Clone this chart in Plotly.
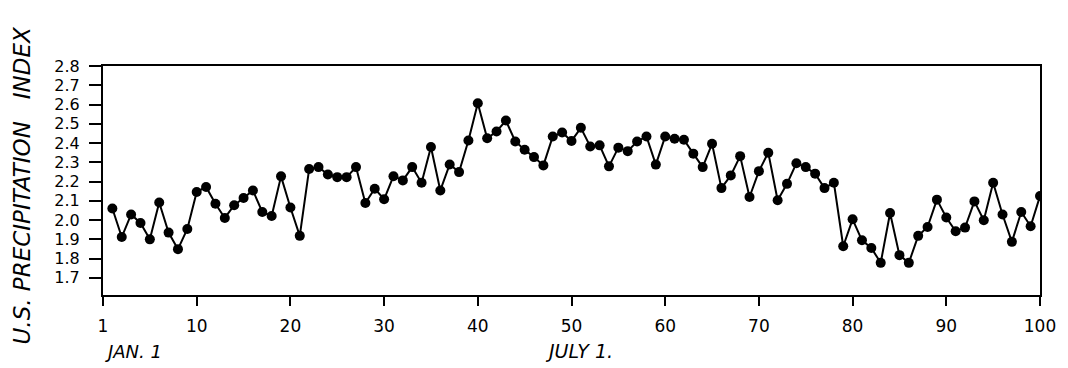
import plotly.graph_objects as go

periods = list(range(1, 101))
precip_index = [
    2.060, 1.912, 2.029, 1.985, 1.900, 2.091, 1.935, 1.849, 1.954, 2.146,
    2.172, 2.085, 2.011, 2.077, 2.115, 2.154, 2.042, 2.021, 2.227, 2.065,
    1.918, 2.265, 2.275, 2.237, 2.223, 2.223, 2.275, 2.089, 2.163, 2.108,
    2.228, 2.206, 2.275, 2.194, 2.379, 2.154, 2.289, 2.249, 2.413, 2.607,
    2.425, 2.460, 2.517, 2.408, 2.365, 2.327, 2.284, 2.434, 2.455, 2.411,
    2.479, 2.382, 2.388, 2.279, 2.376, 2.358, 2.408, 2.434, 2.288, 2.434,
    2.422, 2.417, 2.345, 2.275, 2.396, 2.166, 2.232, 2.332, 2.120, 2.254,
    2.350, 2.103, 2.188, 2.295, 2.275, 2.241, 2.166, 2.194, 1.864, 2.004,
    1.895, 1.855, 1.778, 2.037, 1.818, 1.778, 1.918, 1.964, 2.106, 2.013,
    1.942, 1.961, 2.097, 1.999, 2.194, 2.029, 1.887, 2.042, 1.968, 2.125,
]

x_tickvals = [0, 10, 20, 30, 40, 50, 60, 70, 80, 90, 100]
x_ticktext = ["1", "10", "20", "30", "40", "50", "60", "70", "80", "90", "100"]
y_tickvals = [1.7, 1.8, 1.9, 2.0, 2.1, 2.2, 2.3, 2.4, 2.5, 2.6, 2.7, 2.8]
y_ticktext = ["1.7", "1.8", "1.9", "2.0", "2.1", "2.2", "2.3", "2.4", "2.5", "2.6", "2.7", "2.8"]

FONT = "DejaVu Sans"

fig = go.Figure()
fig.add_trace(go.Scatter(
    x=periods, y=precip_index, mode="lines+markers",
    line=dict(color="black", width=2),
    marker=dict(color="black", size=10),
    showlegend=False,
))

# the page body has an 8px default margin, so the figure is sized 8px smaller
fig.update_layout(
    width=1060, height=360,
    margin=dict(l=95, r=17, t=58, b=73),
    paper_bgcolor="white", plot_bgcolor="white",
    font=dict(family=FONT, color="black", size=16),
    xaxis=dict(
        range=[0, 100], tickvals=x_tickvals, ticktext=x_ticktext,
        showgrid=False, zeroline=False, showline=True, mirror=True,
        linecolor="black", linewidth=2, ticks="outside", ticklen=9,
        tickwidth=2, tickcolor="black", ticklabelstandoff=6,
        tickfont=dict(family=FONT, size=17),
    ),
    yaxis=dict(
        range=[1.611, 2.8], tickvals=y_tickvals, ticktext=y_ticktext,
        showgrid=False, zeroline=False, showline=True, mirror=True,
        linecolor="black", linewidth=2, ticks="outside", ticklen=12,
        tickwidth=2, tickcolor="black", ticklabelstandoff=6,
        tickfont=dict(family=FONT, size=16),
    ),
    annotations=[
        dict(text="U.S. PRECIPITATION\u00a0\u00a0\u00a0INDEX", textangle=-90,
             xref="paper", yref="paper", x=-0.086, y=0.48,
             xanchor="center", yanchor="middle", showarrow=False,
             font=dict(family=FONT, size=23, style="italic")),
        dict(text="JAN. 1", xref="x", yref="paper", x=0, y=-0.245,
             xanchor="left", yanchor="middle", showarrow=False,
             font=dict(family=FONT, size=18, style="italic")),
        dict(text="JULY 1.", xref="x", yref="paper", x=47.0, y=-0.245,
             xanchor="left", yanchor="middle", showarrow=False,
             font=dict(family=FONT, size=19, style="italic")),
    ],
)

fig.write_html("out.html")
